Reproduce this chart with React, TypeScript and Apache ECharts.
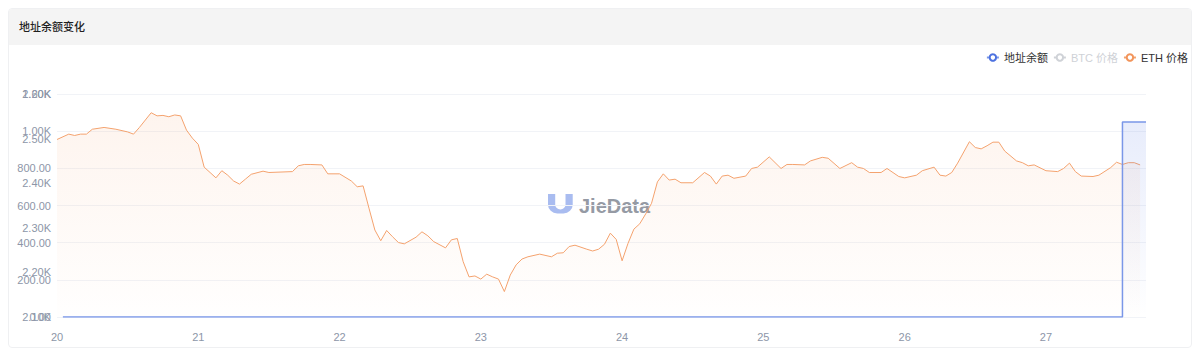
import React, { useEffect, useRef } from "react";
import * as echarts from "echarts";

// ---- data ----
const dayLabels = ["20", "21", "22", "23", "24", "25", "26", "27"];

// hours since day 20 00:00, ETH price (USD)
const ethHours = [0,2,3,4,5,6,8,10,12,13,14,16,17,18,19,20,21,22,23,24,25,26,27,28,29,30,31,32,33,35,36,40,41,42,43,45,46,48,50,51,52,53,54,55,56,57,58,59,61,62,63,64,66,67,68,69,70,71,72,73,74,75,76,77,78,79,80,82,84,85,86,87,88,90,91,92,93,94,95,96,97,98,99,100,101,102,103,104,105,106,108,110,111,112,113,114,115,117,118,119,121,123,124,125,127,128,130,131,133,135,136,137,138,140,141,143,144,146,147,149,150,151,152,153,155,156,157,158,159,160,161,163,164,165,166,168,170,171,172,173,174,176,177,179,180,181,182,183,184];
const ethPrice = [2498,2510,2507,2510,2510,2521,2525,2521,2515,2510,2525,2558,2551,2552,2549,2553,2551,2519,2501,2487,2436,2424,2412,2428,2418,2405,2398,2409,2420,2427,2424,2426,2439,2442,2442,2441,2421,2421,2405,2392,2394,2344,2295,2271,2294,2280,2267,2264,2279,2291,2282,2269,2255,2273,2276,2224,2190,2192,2185,2196,2190,2185,2157,2194,2217,2230,2235,2241,2235,2243,2244,2258,2261,2252,2248,2252,2263,2288,2274,2226,2265,2297,2309,2331,2355,2403,2421,2407,2409,2401,2401,2424,2416,2398,2416,2418,2411,2416,2433,2436,2459,2433,2442,2442,2441,2450,2458,2456,2433,2446,2436,2433,2424,2424,2433,2415,2412,2418,2428,2436,2418,2416,2424,2445,2493,2480,2477,2484,2492,2492,2472,2450,2446,2439,2441,2428,2426,2433,2445,2426,2416,2415,2418,2435,2447,2442,2446,2446,2441];

// address balance (step series)
const balanceHours = [1, 181, 185];
const balanceValues = [0, 1050, 1050];

// BTC price (hidden in legend)
const btcHours: number[] = [];
const btcPrice: number[] = [];

const FONT = 'Arial, "Liberation Sans", "Noto Sans CJK SC", sans-serif';

let registered = false;
function registerLogo() {
  if (registered) return;
  registered = true;
  const d = "M0 0H7V11A5 5 0 0 0 17 11V0H24V11A9 9 0 0 1 15 20H9A9 9 0 0 1 0 11Z";
  echarts.graphic.registerShape("logo", echarts.graphic.extendPath(d, {}) as any);
}

export default function App() {
  const ref = useRef<HTMLDivElement>(null);

  useEffect(() => {
    if (!ref.current) return;
    registerLogo();
    const chart = echarts.init(ref.current, undefined, { renderer: "svg" });
    const labelColor = "#8d96a8";
    const fmt1 = (v: number) => (v >= 1000 ? (v / 1000).toFixed(2) + "K" : v.toFixed(2));
    const fmt2 = (v: number) => (v / 1000).toFixed(2) + "K";
    chart.setOption({
      animation: false,
      textStyle: { fontFamily: FONT },
      legend: {
        right: 0,
        top: 4,
        padding: 3,
        itemWidth: 12,
        itemHeight: 8,
        itemGap: 5,
        textStyle: { fontSize: 11, color: "#333" },
        data: ["地址余额", "BTC 价格", "ETH 价格"],
        selected: { "BTC 价格": false },
      },
      grid: { left: 48, right: 45, top: 49, bottom: 30 },
      xAxis: {
        type: "value",
        min: 0,
        max: 185,
        interval: 24,
        axisLine: { show: false },
        axisTick: { show: false },
        splitLine: { show: false },
        axisLabel: {
          color: labelColor,
          fontSize: 11,
          margin: 14,
          showMaxLabel: false,
          formatter: (v: number) => (v % 24 === 0 ? dayLabels[v / 24] ?? "" : ""),
        },
      },
      yAxis: [
        {
          type: "value",
          min: 0,
          max: 1200,
          interval: 200,
          position: "left",
          axisLine: { show: false },
          axisTick: { show: false },
          splitLine: { lineStyle: { color: "#f1f3f7" } },
          axisLabel: { color: labelColor, fontSize: 11, margin: 6, formatter: fmt1 },
        },
        {
          type: "value",
          min: 2100,
          max: 2600,
          interval: 100,
          position: "left",
          offset: 0,
          axisLine: { show: false },
          axisTick: { show: false },
          splitLine: { show: false },
          axisLabel: { color: labelColor, fontSize: 11, margin: 6, formatter: fmt2 },
        },
      ],
      graphic: [
        {
          type: "logo",
          x: 539,
          y: 149,
          scaleX: 1.03,
          scaleY: 0.97,
          z: 0,
          style: { fill: "#a9bcf0" },
        },
        {
          type: "text",
          x: 570,
          y: 161,
          z: 0,
          style: {
            text: "JieData",
            fill: "#959aa4",
            font: "bold 20px " + FONT,
            textVerticalAlign: "middle",
            verticalAlign: "middle",
          },
        },
      ],
      series: [
        {
          name: "地址余额",
          type: "line",
          yAxisIndex: 0,
          step: "end",
          symbol: "emptyCircle",
          showSymbol: false,
          z: 3,
          itemStyle: { color: "#4d72e0" },
          lineStyle: { color: "#7a97e8", width: 1.5 },
          areaStyle: {
            color: new echarts.graphic.LinearGradient(0, 0, 0, 1, [
              { offset: 0, color: "rgba(88,122,228,0.2)" },
              { offset: 1, color: "rgba(88,122,228,0)" },
            ]),
          },
          data: balanceHours.map((h, i) => [h, balanceValues[i]]),
        },
        {
          name: "BTC 价格",
          type: "line",
          yAxisIndex: 1,
          symbol: "emptyCircle",
          showSymbol: false,
          itemStyle: { color: "#9aa0aa" },
          data: btcHours.map((h, i) => [h, btcPrice[i]]),
        },
        {
          name: "ETH 价格",
          type: "line",
          yAxisIndex: 1,
          symbol: "emptyCircle",
          showSymbol: false,
          z: 2,
          itemStyle: { color: "#f2945a" },
          lineStyle: { color: "#f4a26e", width: 1 },
          areaStyle: {
            origin: "start",
            color: new echarts.graphic.LinearGradient(0, 0, 0, 1, [
              { offset: 0, color: "rgba(245,160,105,0.16)" },
              { offset: 1, color: "rgba(245,160,105,0.01)" },
            ]),
          },
          data: ethHours.map((h, i) => [h, ethPrice[i]]),
        },
      ],
    });
    return () => chart.dispose();
  }, []);

  return (
    <div
      style={{
        width: 1184,
        height: 340,
        boxSizing: "border-box",
        border: "1px solid #eff0f2",
        borderRadius: 4,
        overflow: "hidden",
        fontFamily: FONT,
        background: "#fff",
      }}
    >
      <div
        style={{
          height: 36,
          lineHeight: "36px",
          background: "#f4f4f4",
          paddingLeft: 10,
          fontSize: 11,
          fontWeight: 500,
          color: "#1f1f1f",
        }}
      >
        地址余额变化
      </div>
      <div ref={ref} style={{ width: 1182, height: 302 }} />
    </div>
  );
}
